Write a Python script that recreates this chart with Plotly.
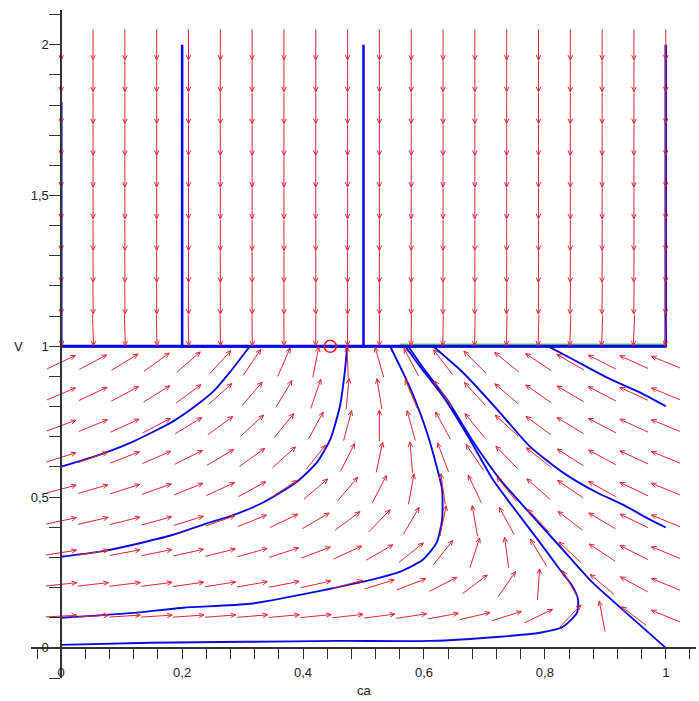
import numpy as np
import plotly.graph_objects as go

# ---------------- layout values ----------------
FIG_W, FIG_H = 699, 701
MARGIN = dict(l=31, r=3, t=10, b=23)
X_RANGE = [-0.05, 1.05]
Y_RANGE = [-0.1, 2.115]
x_tick_vals = [0, 0.2, 0.4, 0.6, 0.8, 1]
y_tick_vals = [0, 0.5, 1, 1.5, 2]
x_title = "ca"
y_title = "V"

# ---------------- direction-field model ----------------
# dV/dt = feed (below overflow level V=1), strong outflow above it
# dca/dt = feed/V*(ca_in - ca) - k_rate*ca   -> equilibrium ca = 0.45 at V = 1
feed = 1.0
ca_in = 1.0
k_rate = 1.222
overflow_gain = 1000.0
field_ca = [i / 19 for i in range(20)]
field_V = [2 * j / 19 for j in range(1, 20)]   # no arrows on V = 0

# ---------------- trajectories ----------------
trajA_ca = [0, 0, 0.445]
trajA_V = [1.81, 1.0, 1.0]
trajB_ca = [0.2, 0.2, 0.445]
trajB_V = [2.0, 1.0, 1.0]
trajC_ca = [0.5, 0.5, 0.445]
trajC_V = [2.0, 1.0, 1.0]
trajD_ca = [1.0, 1.0, 0.445]
trajD_V = [2.0, 1.0, 1.0]

# curves below V = 1 (they continue along V = 1 to the equilibrium)
trajE_ca = [0, 0.064, 0.119, 0.185, 0.23, 0.255, 0.279, 0.312]
trajE_V = [0.601, 0.641, 0.684, 0.751, 0.814, 0.857, 0.914, 1.0]

trajF_ca = [0, 0.064, 0.119, 0.185, 0.241, 0.279, 0.334, 0.390, 0.423, 0.445, 0.461, 0.469, 0.473]
trajF_V = [0.302, 0.319, 0.342, 0.375, 0.413, 0.436, 0.482, 0.551, 0.615, 0.691, 0.801, 0.914, 1.0]

trajG_ca = [0, 0.119, 0.202, 0.312, 0.428, 0.527, 0.560, 0.598, 0.621, 0.630, 0.630, 0.621, 0.605, 0.585, 0.565, 0.544]
trajG_V = [0.100, 0.116, 0.133, 0.146, 0.189, 0.233, 0.252, 0.292, 0.349, 0.425, 0.525, 0.601, 0.714, 0.824, 0.914, 1.0]

trajH_ca = [0, 0.147, 0.304, 0.461, 0.610, 0.726, 0.792, 0.830, 0.853, 0.855, 0.846, 0.825, 0.792, 0.754, 0.714, 0.676, 0.635, 0.593, 0.569]
trajH_V = [0.010, 0.017, 0.020, 0.023, 0.023, 0.037, 0.050, 0.070, 0.116, 0.159, 0.203, 0.259, 0.349, 0.449, 0.558, 0.691, 0.824, 0.934, 1.0]

trajI_ca = [1.0, 0.929, 0.879, 0.825, 0.770, 0.726, 0.679, 0.638, 0.598, 0.574]
trajI_V = [0.0, 0.126, 0.216, 0.336, 0.458, 0.558, 0.691, 0.824, 0.930, 1.0]

trajJ_ca = [1.0, 0.974, 0.929, 0.886, 0.830, 0.775, 0.721, 0.664, 0.615]
trajJ_V = [0.399, 0.425, 0.475, 0.515, 0.581, 0.668, 0.791, 0.914, 1.0]

trajK_ca = [1.0, 0.957, 0.902, 0.846, 0.808]
trajK_V = [0.801, 0.847, 0.897, 0.957, 0.997]

level_path_ca = [0, 1]
level_path_V = [1.0, 1.0]

green_ca = [0.56, 1.0]
green_V = [1.006, 1.006]

equilibrium_ca = [0.445]
equilibrium_V = [1.0]

# ---------------- colours ----------------
ARROW_COLOR = "rgb(228,36,52)"
TRAJ_COLOR = "rgb(10,10,225)"
GREEN = "rgb(110,215,90)"
AXIS_COLOR = "#333333"
FONT = "Liberation Sans, Arial, sans-serif"

# ---------------- build figure ----------------
fig = go.Figure()

plot_w = FIG_W - MARGIN["l"] - MARGIN["r"]
plot_h = FIG_H - MARGIN["t"] - MARGIN["b"]
px_x = plot_w / (X_RANGE[1] - X_RANGE[0])
px_y = plot_h / (Y_RANGE[1] - Y_RANGE[0])

# green level line (under the trajectories)
fig.add_trace(go.Scatter(x=green_ca, y=green_V, mode="lines",
                         line=dict(color=GREEN, width=2), hoverinfo="skip", showlegend=False))

# trajectories
vertical_sets = [(trajA_ca, trajA_V), (trajB_ca, trajB_V), (trajC_ca, trajC_V), (trajD_ca, trajD_V)]
for cx, vy in vertical_sets:
    fig.add_trace(go.Scatter(x=cx, y=vy, mode="lines",
                             line=dict(color=TRAJ_COLOR, width=2.6), hoverinfo="skip", showlegend=False))

curve_sets = [(trajE_ca, trajE_V), (trajF_ca, trajF_V), (trajG_ca, trajG_V), (trajH_ca, trajH_V),
              (trajI_ca, trajI_V), (trajJ_ca, trajJ_V), (trajK_ca, trajK_V)]
for cx, vy in curve_sets:
    fig.add_trace(go.Scatter(x=cx, y=vy, mode="lines",
                             line=dict(color=TRAJ_COLOR, width=1.9, shape="spline", smoothing=0.6),
                             hoverinfo="skip", showlegend=False))

# thick common trajectory along V = 1
fig.add_trace(go.Scatter(x=level_path_ca, y=level_path_V, mode="lines",
                         line=dict(color=TRAJ_COLOR, width=3), hoverinfo="skip", showlegend=False))

# direction field arrows (constant screen length, centred on grid points)
half_len = 15.5
head_len = 5.5
head_ang = np.deg2rad(24)
ax_pts, ay_pts = [], []
for ca in field_ca:
    for V in field_V:
        dca = feed / V * (ca_in - ca) - k_rate * ca
        dV = feed if V < 1 else -overflow_gain * (V - 1)
        sx, sy = dca * px_x, dV * px_y
        n = np.hypot(sx, sy)
        ux, uy = sx / n, sy / n
        tail = (ca - ux * half_len / px_x, V - uy * half_len / px_y)
        tip = (ca + ux * half_len / px_x, V + uy * half_len / px_y)
        barbs = []
        for s in (1, -1):
            c, sn = np.cos(s * head_ang), np.sin(s * head_ang)
            bx = -(ux * c - uy * sn) * head_len
            by = -(ux * sn + uy * c) * head_len
            barbs.append((tip[0] + bx / px_x, tip[1] + by / px_y))
        ax_pts += [tail[0], tip[0], barbs[0][0], None, tip[0], barbs[1][0], None]
        ay_pts += [tail[1], tip[1], barbs[0][1], None, tip[1], barbs[1][1], None]

fig.add_trace(go.Scatter(x=ax_pts, y=ay_pts, mode="lines",
                         line=dict(color=ARROW_COLOR, width=1), hoverinfo="skip", showlegend=False))

# equilibrium point
fig.add_trace(go.Scatter(x=equilibrium_ca, y=equilibrium_V, mode="markers",
                         marker=dict(symbol="circle-open", size=12, color="rgb(235,20,20)",
                                     line=dict(width=1.6, color="rgb(235,20,20)")),
                         hoverinfo="skip", showlegend=False))

x_pos = (0 - X_RANGE[0]) / (X_RANGE[1] - X_RANGE[0])
y_pos = (0 - Y_RANGE[0]) / (Y_RANGE[1] - Y_RANGE[0])

tick_font = dict(family=FONT, size=13, color="#222222")

fig.update_layout(
    width=FIG_W, height=FIG_H, margin=MARGIN,
    paper_bgcolor="white", plot_bgcolor="white",
    separators=",.",
    showlegend=False,
    xaxis=dict(range=X_RANGE, anchor="free", position=y_pos, side="bottom",
               showgrid=False, zeroline=False, showline=True, linecolor=AXIS_COLOR, linewidth=1.6,
               tickmode="array", tickvals=x_tick_vals, ticks="outside", ticklen=10, tickwidth=1.3,
               tickcolor=AXIS_COLOR, tickfont=tick_font, fixedrange=True, ticklabelstandoff=3,
               minor=dict(dtick=0.04, tick0=0, ticks="outside", ticklen=10, tickwidth=1.3,
                          tickcolor=AXIS_COLOR, showgrid=False)),
    yaxis=dict(range=Y_RANGE, anchor="free", position=x_pos, side="left",
               showgrid=False, zeroline=False, showline=True, linecolor=AXIS_COLOR, linewidth=1.6,
               tickmode="array", tickvals=y_tick_vals, ticks="outside", ticklen=9, tickwidth=1.3,
               tickcolor=AXIS_COLOR, tickfont=tick_font, fixedrange=True,
               minor=dict(dtick=0.1, tick0=0, ticks="outside", ticklen=11, tickwidth=1.3,
                          tickcolor=AXIS_COLOR, showgrid=False)),
)

def to_paper_x(v):
    return (v - X_RANGE[0]) / (X_RANGE[1] - X_RANGE[0])

def to_paper_y(v):
    return (v - Y_RANGE[0]) / (Y_RANGE[1] - Y_RANGE[0])

fig.add_annotation(x=to_paper_x(0.502), y=to_paper_y(-0.14), xref="paper", yref="paper",
                   xanchor="center", yanchor="middle",
                   text=x_title, showarrow=False, font=dict(family=FONT, size=13, color="#222222"))
fig.add_annotation(x=to_paper_x(-0.071), y=to_paper_y(1.0), xref="paper", yref="paper",
                   xanchor="center", yanchor="middle",
                   text=y_title, showarrow=False, font=dict(family=FONT, size=13, color="#222222"))

fig.write_html("out.html", config={"displayModeBar": False},
               post_script="document.body.style.margin='0';")
